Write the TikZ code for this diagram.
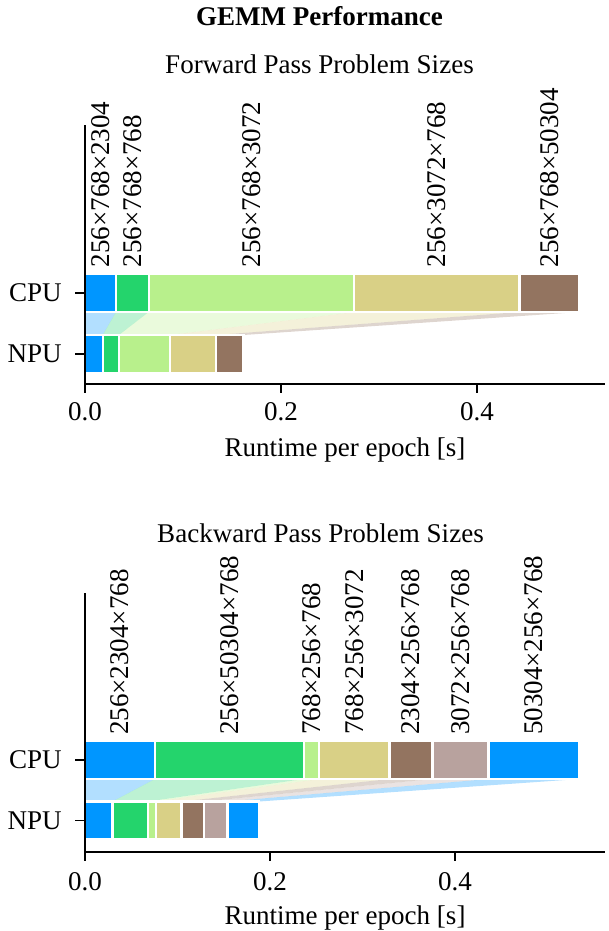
\documentclass[tikz,border=0pt]{standalone}
\usepackage{fontspec}
\setmainfont{Liberation Serif}
\usetikzlibrary{positioning}
\definecolor{gblue}{RGB}{0,150,255}
\definecolor{ggreen}{RGB}{36,212,108}
\definecolor{glime}{RGB}{184,240,140}
\definecolor{gkhaki}{RGB}{217,208,134}
\definecolor{gbrown}{RGB}{147,116,96}
\definecolor{gmauve}{RGB}{184,162,158}
\newcommand{\figfont}{\fontsize{10}{12}\selectfont}

\begin{document}
\begin{tikzpicture}[x=0.37pt,y=-0.37pt,font=\figfont,
	seg/.style={draw=white,line width=0.8pt},
	band/.style={fill opacity=0.3},
	spine/.style={line width=0.8pt},
	tickmark/.style={line width=0.6pt},
	sizelabel/.style={rotate=90,anchor=west,inner sep=0pt,xshift=-1pt},
	ticklabel/.style={anchor=base,inner sep=0pt},
	devlabel/.style={anchor=east,inner sep=0pt,xshift=-8.4pt}
]
	\useasboundingbox (0,0) rectangle (608,931);

	\node[anchor=base,font=\figfont\bfseries] (title) at (319.5,25) {GEMM Performance};
	\node[anchor=base] (fwdTitle) at (319.5,73) {Forward Pass Problem Sizes};
	\node[anchor=base] (bwdTitle) at (320.5,542) {Backward Pass Problem Sizes};

	% forward pass
	\begin{scope}[x=362.6pt,xshift=31.45pt]
	\fill[gblue,band] (0,312) -- (0.0316,312) -- (0.0181,335) -- (0,335) -- cycle;
	\fill[ggreen,band] (0.0316,312) -- (0.065,312) -- (0.0347,335) -- (0.0181,335) -- cycle;
	\fill[glime,band] (0.065,312) -- (0.2748,312) -- (0.0865,335) -- (0.0347,335) -- cycle;
	\fill[gkhaki,band] (0.2748,312) -- (0.4434,312) -- (0.134,335) -- (0.0865,335) -- cycle;
	\fill[gbrown,band] (0.4434,312) -- (0.5046,312) -- (0.1617,335) -- (0.134,335) -- cycle;

	\filldraw[seg,fill=gblue] (0,274) rectangle (0.0316,312);
	\filldraw[seg,fill=ggreen] (0.0316,274) rectangle (0.065,312);
	\filldraw[seg,fill=glime] (0.065,274) rectangle (0.2748,312);
	\filldraw[seg,fill=gkhaki] (0.2748,274) rectangle (0.4434,312);
	\filldraw[seg,fill=gbrown] (0.4434,274) rectangle (0.5046,312);

	\filldraw[seg,fill=gblue] (0,335) rectangle (0.0181,373);
	\filldraw[seg,fill=ggreen] (0.0181,335) rectangle (0.0347,373);
	\filldraw[seg,fill=glime] (0.0347,335) rectangle (0.0865,373);
	\filldraw[seg,fill=gkhaki] (0.0865,335) rectangle (0.134,373);
	\filldraw[seg,fill=gbrown] (0.134,335) rectangle (0.1617,373);

	\node[sizelabel] (fwdL1) at (0.0158,265) {256×768×2304};
	\node[sizelabel] (fwdL2) at (0.0483,265) {256×768×768};
	\node[sizelabel] (fwdL3) at (0.1699,265) {256×768×3072};
	\node[sizelabel] (fwdL4) at (0.3591,265) {256×3072×768};
	\node[sizelabel] (fwdL5) at (0.474,265) {256×768×50304};

	\draw[spine] (0,125) -- (0,384) -- (0.5306,384);
	\draw[tickmark] (0,293) -- ++(-3.7pt,0);
	\draw[tickmark] (0,354) -- ++(-3.7pt,0);
	\draw[tickmark] (0,384) -- ++(0,9);
	\draw[tickmark] (0.2,384) -- ++(0,9);
	\draw[tickmark] (0.4,384) -- ++(0,9);
	\node[devlabel] (fwdCPU) at (0,293) {CPU};
	\node[devlabel] (fwdNPU) at (0,354) {NPU};
	\node[ticklabel] (fwdT0) at (0,420) {0.0};
	\node[ticklabel] (fwdT1) at (0.2,420) {0.2};
	\node[ticklabel] (fwdT2) at (0.4,420) {0.4};
	\node[anchor=base] (fwdXlabel) at (0.2653,456) {Runtime per epoch [s]};
	\end{scope}

	% backward pass
	\begin{scope}[x=342.25pt,xshift=31.45pt]
	\fill[gblue,band] (0,779) -- (0.0757,779) -- (0.0297,801.5) -- (0,801.5) -- cycle;
	\fill[ggreen,band] (0.0757,779) -- (0.2368,779) -- (0.0681,801.5) -- (0.0297,801.5) -- cycle;
	\fill[glime,band] (0.2368,779) -- (0.253,779) -- (0.0765,801.5) -- (0.0681,801.5) -- cycle;
	\fill[gkhaki,band] (0.253,779) -- (0.3292,779) -- (0.1043,801.5) -- (0.0765,801.5) -- cycle;
	\fill[gbrown,band] (0.3292,779) -- (0.3757,779) -- (0.1286,801.5) -- (0.1043,801.5) -- cycle;
	\fill[gmauve,band] (0.3757,779) -- (0.4362,779) -- (0.1541,801.5) -- (0.1286,801.5) -- cycle;
	\fill[gblue,band] (0.4362,779) -- (0.5346,779) -- (0.1881,801.5) -- (0.1541,801.5) -- cycle;

	\filldraw[seg,fill=gblue] (0,741) rectangle (0.0757,779);
	\filldraw[seg,fill=ggreen] (0.0757,741) rectangle (0.2368,779);
	\filldraw[seg,fill=glime] (0.2368,741) rectangle (0.253,779);
	\filldraw[seg,fill=gkhaki] (0.253,741) rectangle (0.3292,779);
	\filldraw[seg,fill=gbrown] (0.3292,741) rectangle (0.3757,779);
	\filldraw[seg,fill=gmauve] (0.3757,741) rectangle (0.4362,779);
	\filldraw[seg,fill=gblue] (0.4362,741) rectangle (0.5346,779);

	\filldraw[seg,fill=gblue] (0,801.5) rectangle (0.0297,839.5);
	\filldraw[seg,fill=ggreen] (0.0297,801.5) rectangle (0.0681,839.5);
	\filldraw[seg,fill=glime] (0.0681,801.5) rectangle (0.0765,839.5);
	\filldraw[seg,fill=gkhaki] (0.0765,801.5) rectangle (0.1043,839.5);
	\filldraw[seg,fill=gbrown] (0.1043,801.5) rectangle (0.1286,839.5);
	\filldraw[seg,fill=gmauve] (0.1286,801.5) rectangle (0.1541,839.5);
	\filldraw[seg,fill=gblue] (0.1541,801.5) rectangle (0.1881,839.5);

	\node[sizelabel] (bwdL1) at (0.0379,732.7) {256×2304×768};
	\node[sizelabel] (bwdL2) at (0.1563,732.7) {256×50304×768};
	\node[sizelabel] (bwdL3) at (0.2449,732.7) {768×256×768};
	\node[sizelabel] (bwdL4) at (0.2911,732.7) {768×256×3072};
	\node[sizelabel] (bwdL5) at (0.3525,732.7) {2304×256×768};
	\node[sizelabel] (bwdL6) at (0.406,732.7) {3072×256×768};
	\node[sizelabel] (bwdL7) at (0.4854,732.7) {50304×256×768};

	\draw[spine] (0,593) -- (0,852) -- (0.5622,852);
	\draw[tickmark] (0,760) -- ++(-3.7pt,0);
	\draw[tickmark] (0,820.5) -- ++(-3.7pt,0);
	\draw[tickmark] (0,852) -- ++(0,9);
	\draw[tickmark] (0.2,852) -- ++(0,9);
	\draw[tickmark] (0.4,852) -- ++(0,9);
	\node[devlabel] (bwdCPU) at (0,760) {CPU};
	\node[devlabel] (bwdNPU) at (0,820.5) {NPU};
	\node[ticklabel] (bwdT0) at (0,890) {0.0};
	\node[ticklabel] (bwdT1) at (0.2,890) {0.2};
	\node[ticklabel] (bwdT2) at (0.4,890) {0.4};
	\node[anchor=base] (bwdXlabel) at (0.2811,924) {Runtime per epoch [s]};
	\end{scope}
\end{tikzpicture}
\end{document}
